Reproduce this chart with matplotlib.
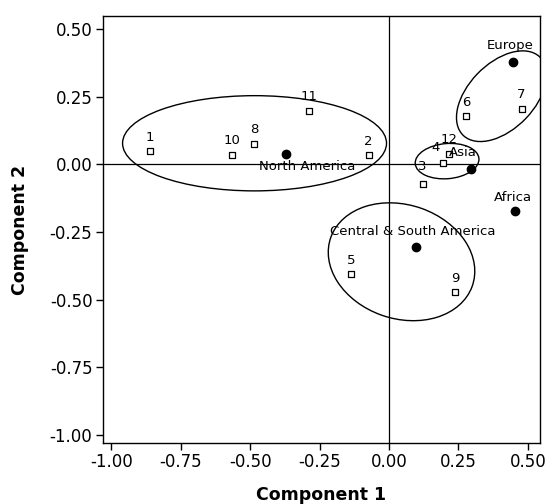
import numpy as np
import matplotlib.pyplot as plt
from matplotlib.patches import Ellipse

# scores of the 12 items
item_labels = ['1', '2', '3', '4', '5', '6', '7', '8', '9', '10', '11', '12']
item_x = [-0.861, -0.073, 0.123, 0.195, -0.136, 0.278, 0.477, -0.485, 0.237, -0.565, -0.287, 0.216]
item_y = [0.049, 0.033, -0.071, 0.006, -0.406, 0.178, 0.205, 0.076, -0.473, 0.036, 0.199, 0.039]

# region centroids
region_labels = ['North America', 'Europe', 'Asia', 'Africa', 'Central & South America']
region_x = [-0.371, 0.447, 0.296, 0.454, 0.097]
region_y = [0.039, 0.380, -0.016, -0.173, -0.305]

# cluster ellipses: centre x, centre y, width, height, angle
ell_cx = [-0.484, 0.405, 0.209, 0.045]
ell_cy = [0.078, 0.252, 0.012, -0.360]
ell_w = [0.95, 0.40, 0.23, 0.54]
ell_h = [0.352, 0.24, 0.13, 0.42]
ell_ang = [0, 47, 5, -20]

xticks = [-1.00, -0.75, -0.50, -0.25, 0.00, 0.25, 0.50]
yticks = [0.50, 0.25, 0.00, -0.25, -0.50, -0.75, -1.00]

# label offsets in pixels (default: centred above the square)
item_off = {'4': (-8, 15), '12': (0, 14), '3': (-1, 17)}
region_off = {'North America': (21, -13), 'Europe': (-3, 16), 'Asia': (-8, 16),
              'Africa': (-2, 14), 'Central & South America': (-3, 15)}

fig = plt.figure(figsize=(5.47, 5.04), dpi=100)
ax = fig.add_axes([0.188, 0.121, 0.799, 0.847])

ax.axhline(0, color='black', lw=0.9, zorder=1)
ax.axvline(0, color='black', lw=0.9, zorder=1)

for cx, cy, w, h, a in zip(ell_cx, ell_cy, ell_w, ell_h, ell_ang):
    ax.add_patch(Ellipse((cx, cy), w, h, angle=a, fill=False, ec='black', lw=1.0, zorder=2))

ax.scatter(item_x, item_y, marker='s', s=16, facecolors='white', edgecolors='black', linewidths=0.9, zorder=3)
ax.scatter(region_x, region_y, marker='o', s=36, color='black', zorder=3)

for lab, x, y in zip(item_labels, item_x, item_y):
    ax.annotate(lab, (x, y), xytext=item_off.get(lab, (0, 14)), textcoords='offset pixels',
                ha='center', va='center', fontsize=9.5)

for lab, x, y in zip(region_labels, region_x, region_y):
    ax.annotate(lab, (x, y), xytext=region_off[lab], textcoords='offset pixels',
                ha='center', va='center', fontsize=9.5)

ax.set_xlim(-1.03, 0.543)
ax.set_ylim(-1.03, 0.548)
ax.set_xticks(xticks)
ax.set_xticklabels(['%.2f' % v for v in xticks])
ax.set_yticks(yticks)
ax.set_yticklabels(['%.2f' % v for v in yticks])
ax.tick_params(labelsize=12, length=5, width=1, color='black', pad=2.5)
for s in ax.spines.values():
    s.set_linewidth(1.0)

ax.set_xlabel('Component 1', fontsize=12.5, fontweight='bold')
ax.set_ylabel('Component 2', fontsize=12.5, fontweight='bold')
ax.xaxis.set_label_coords(0.5, -0.10)
ax.yaxis.set_label_coords(-0.17, 0.5)

fig.savefig('out.png', dpi=100)
